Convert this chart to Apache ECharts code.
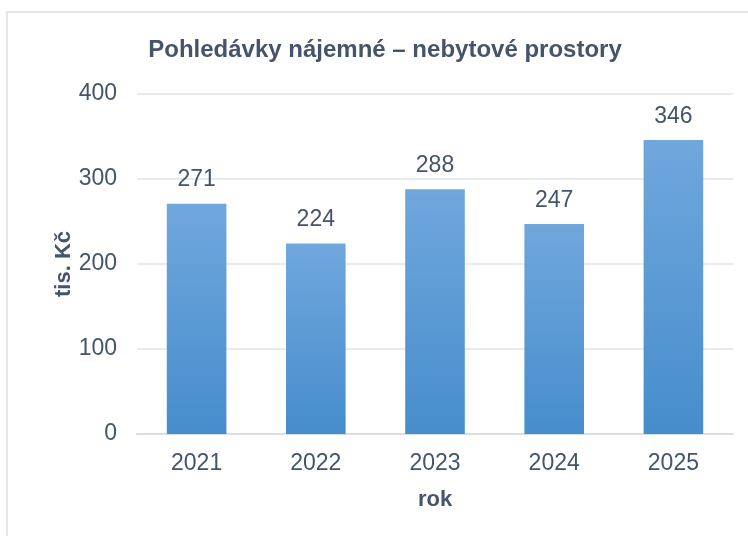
<!DOCTYPE html>
<html>
<head>
<meta charset="utf-8">
<script src="https://cdn.jsdelivr.net/npm/echarts@6/dist/echarts.min.js"></script>
<style>
  html, body { margin: 0; padding: 0; background: #fff; }
  #container { width: 748px; height: 536px; }
</style>
</head>
<body>
<div id="container"></div>
<script>
const years = ['2021', '2022', '2023', '2024', '2025'];
const values = [271, 224, 288, 247, 346];
const TEXT_COLOR = '#44546a';
const FONT = 'Liberation Sans, Arial, sans-serif';

const BAR_COLOR = new echarts.graphic.LinearGradient(0, 0, 0, 1, [{
    offset: 0,
    color: '#70a7dd'
}, {
    offset: 1,
    color: '#468dcc'
}]);

let dom = document.getElementById('container');
let myChart = echarts.init(dom);

let option = {
    backgroundColor: '#fff',
    animation: false,
    title: {
        text: 'Pohledávky nájemné – nebytové prostory',
        left: 380,
        top: 33,
        textAlign: 'center',
        textStyle: {
            color: TEXT_COLOR,
            fontFamily: FONT,
            fontSize: 24,
            fontWeight: 'bold'
        }
    },
    graphic: [{
        type: 'rect',
        shape: { x: 7, y: 12, width: 800, height: 600 },
        style: { fill: 'none', stroke: '#dadfe6', lineWidth: 1.5 },
        silent: true
    }],
    grid: {
        left: 137,
        right: 15,
        top: 94,
        bottom: 102
    },
    xAxis: {
        type: 'category',
        data: years,
        name: 'rok',
        nameLocation: 'middle',
        nameGap: 55,
        nameMoveOverlap: false,
        nameTextStyle: {
            color: TEXT_COLOR,
            fontFamily: FONT,
            fontSize: 22,
            fontWeight: 'bold'
        },
        axisLine: { lineStyle: { color: '#d9dee6', width: 2 } },
        axisTick: { show: false },
        axisLabel: {
            color: TEXT_COLOR,
            fontFamily: FONT,
            fontSize: 23,
            margin: 18
        }
    },
    yAxis: {
        type: 'value',
        min: 0,
        max: 400,
        interval: 100,
        name: 'tis. Kč',
        nameLocation: 'middle',
        nameGap: 62,
        nameMoveOverlap: false,
        nameTextStyle: {
            color: TEXT_COLOR,
            fontFamily: FONT,
            fontSize: 22,
            fontWeight: 'bold'
        },
        axisLine: { show: false },
        axisTick: { show: false },
        splitLine: { lineStyle: { color: '#dfe4ea', width: 1.5 } },
        axisLabel: {
            color: TEXT_COLOR,
            fontFamily: FONT,
            fontSize: 23,
            margin: 20
        }
    },
    series: [{
        type: 'bar',
        data: values,
        barWidth: '50%',
        itemStyle: { color: BAR_COLOR },
        label: {
            show: true,
            position: 'top',
            distance: 12,
            color: TEXT_COLOR,
            fontFamily: FONT,
            fontSize: 23
        }
    }]
};

myChart.setOption(option);
</script>
</body>
</html>
